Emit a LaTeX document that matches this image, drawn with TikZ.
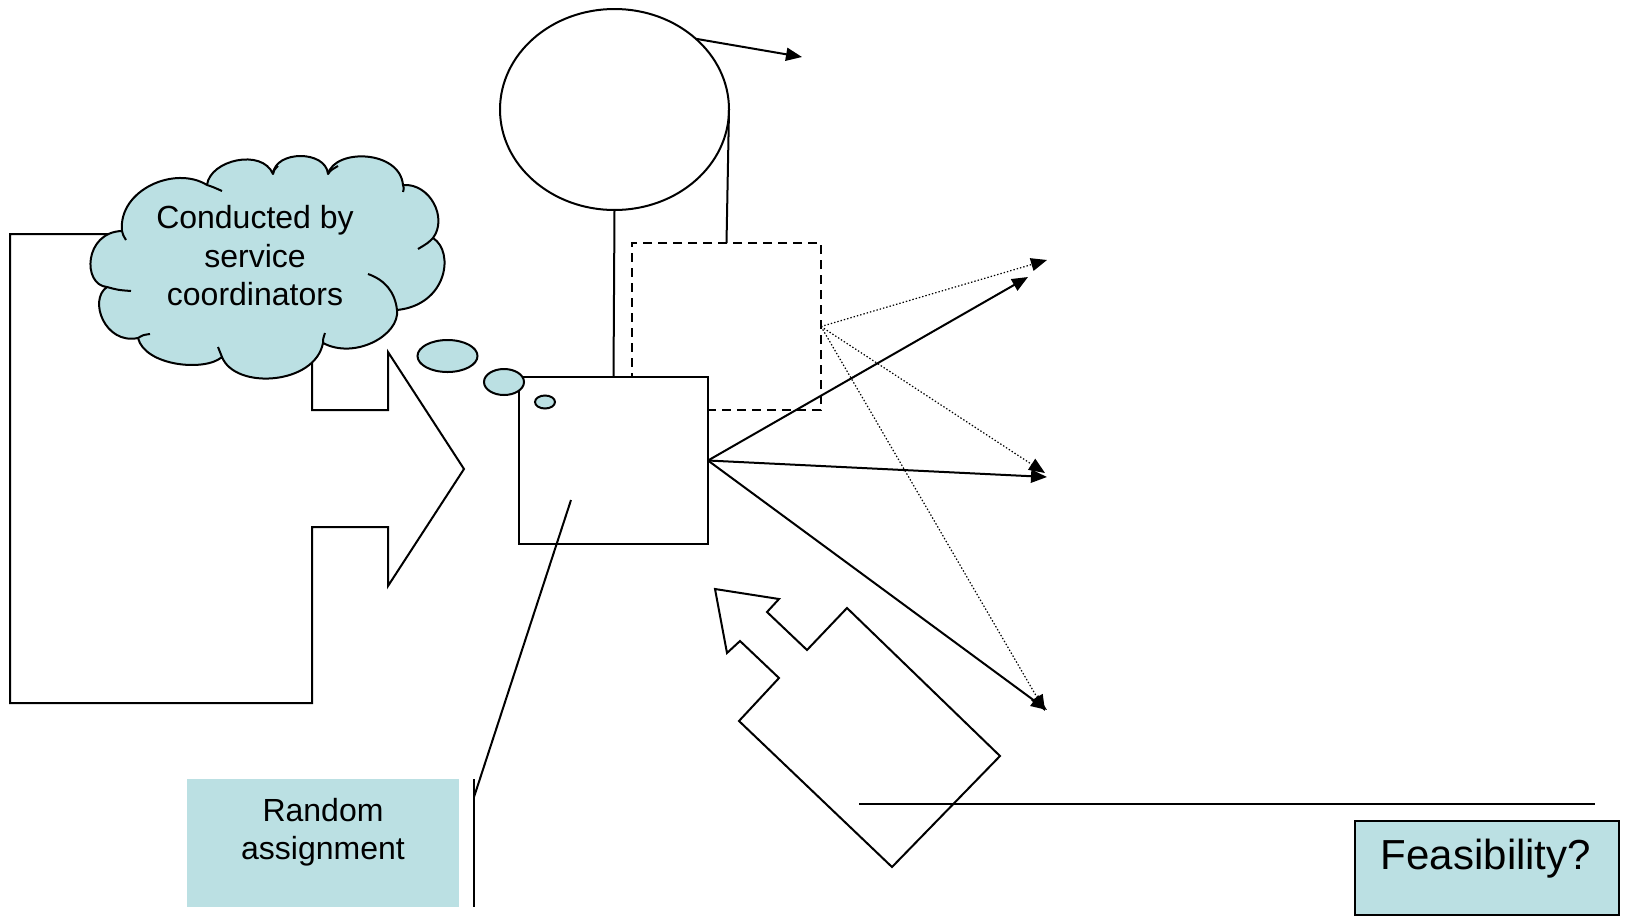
\documentclass[tikz,border=0pt]{standalone}
\usepackage{fontspec}
\setmainfont{Liberation Sans}
\usetikzlibrary{shapes.geometric,arrows.meta}
\definecolor{bubble}{RGB}{187,224,227}

\begin{document}
\begin{tikzpicture}[x=0.5pt,y=-0.5pt, line width=1pt, line join=miter,
  tip/.style={-{Triangle[length=8pt,width=6.5pt]}},
  dotarrow/.style={tip, line width=0.6pt, dash pattern=on 0.7pt off 1pt},
  boxlabel/.style={font=\fontsize{16}{19.25}\selectfont, align=center, inner sep=0pt},
  plainbox/.style={draw, rectangle, inner sep=0pt, outer sep=0pt},
  oval/.style={draw, ellipse, inner sep=0pt, outer sep=0pt},
]
\useasboundingbox (0,0) rectangle (1627,916);

% large block arrow on the left (partly under the cloud)
\draw (10,234) -- (312,234) -- (312,410) -- (388,410) -- (388,352) -- (464,469)
  -- (388,586) -- (388,527) -- (312,527) -- (312,703) -- (10,703) -- cycle;

% cloud callout: eleven puffs
\draw[fill=bubble, line join=round]
  (107,287) .. controls (82,285) and (84,232) .. (122,231)
  .. controls (118,190) and (175,165) .. (207,185)
  .. controls (210,160) and (262,148) .. (273,174)
  .. controls (275,150) and (326,150) .. (328,174)
  .. controls (335,148) and (400,150) .. (403,185)
  .. controls (430,183) and (448,218) .. (433,238)
  .. controls (455,252) and (447,305) .. (397,310)
  .. controls (400,335) and (355,360) .. (323,343)
  .. controls (315,385) and (235,390) .. (222,357)
  .. controls (205,372) and (145,366) .. (138,338)
  .. controls (105,345) and (88,300) .. cycle;
% inner puff strokes
\draw (122,231) .. controls (123,235) .. (126,240);
\draw (207,185) .. controls (213,187) .. (222,191);
\draw (273,174) .. controls (274,170) .. (278,166);
\draw (328,174) .. controls (331,170) .. (338,166);
\draw (403,185) .. controls (404,188) .. (403,192);
\draw (433,238) .. controls (428,243) .. (418,249);
\draw (397,310) .. controls (395,292) and (385,280) .. (368,274);
\draw (323,343) .. controls (323,339) .. (325,333);
\draw (222,357) .. controls (220,352) .. (218,347);
\draw (138,338) .. controls (143,335) .. (150,334);
\draw (107,287) .. controls (118,290) .. (131,291);
\node[boxlabel] (cloudtext) at (255,256) {Conducted by\\service\\coordinators};

% top ellipse and dashed box
\node[oval, minimum width=114.5pt, minimum height=100.5pt] (ell) at (614.5,109.5) {};
\node[plainbox, dashed, dash pattern=on 4.5pt off 3pt, minimum width=94.5pt, minimum height=83.5pt] (dash) at (726.5,326.5) {};

\coordinate (topend) at (802,57);
\draw[tip] (ell.41) -- (topend);
\draw (ell.east) -- (dash.north);

% main box
\node[plainbox, fill=white, minimum width=94.5pt, minimum height=83.5pt] (box) at (613.5,460.5) {};
\draw (ell.south) -- (box.north);

% thought bubbles
\node[oval, fill=bubble, minimum width=30pt, minimum height=16pt] (b1) at (447.5,356) {};
\node[oval, fill=bubble, minimum width=20pt, minimum height=13pt] (b2) at (504,382) {};
\node[oval, fill=bubble, minimum width=10pt, minimum height=6.5pt] (b3) at (545,402) {};

% outcome arrows
\coordinate (t1) at (1028,277);
\coordinate (t2) at (1047,477);
\coordinate (t3) at (1047,710);
\coordinate (d1) at (1047,260);
\coordinate (d2) at (1045,473);
\coordinate (d3) at (1045,711);
\draw[tip] (box.east) -- (t1);
\draw[tip] (box.east) -- (t2);
\draw[tip] (box.east) -- (t3);
\draw[dotarrow] (dash.east) -- (d1);
\draw[dotarrow] (dash.east) -- (d2);
\draw[dotarrow] (dash.east) -- (d3);

% rotated block arrow at the bottom
\draw (715,589) -- (779,599) -- (767,612) -- (807,650) -- (847,608) -- (1000,756)
  -- (892,867) -- (739,721) -- (779,678) -- (740,641) -- (727,653) -- cycle;

% horizontal rule
\coordinate (h1) at (859,804);
\coordinate (h2) at (1595,804);
\draw (h1) -- (h2);

% random assignment callout
\node[rectangle, fill=bubble, minimum width=136pt, minimum height=64pt, inner sep=0pt] (rand) at (323,843) {};
\node[boxlabel] (randtext) at (323,832) {Random\\assignment};
\coordinate (c1) at (474,779);
\coordinate (c2) at (474,907);
\coordinate (c3) at (474,797);
\coordinate (c4) at (571,500);
\draw (c1) -- (c2);
\draw (c3) -- (c4);

% feasibility box
\node[plainbox, fill=bubble, minimum width=132pt, minimum height=47pt] (feas) at (1487,868) {};
\node[font=\fontsize{21}{25}\selectfont, inner sep=0pt] (feastext) at (1486,859) {Feasibility?};
\end{tikzpicture}
\end{document}
